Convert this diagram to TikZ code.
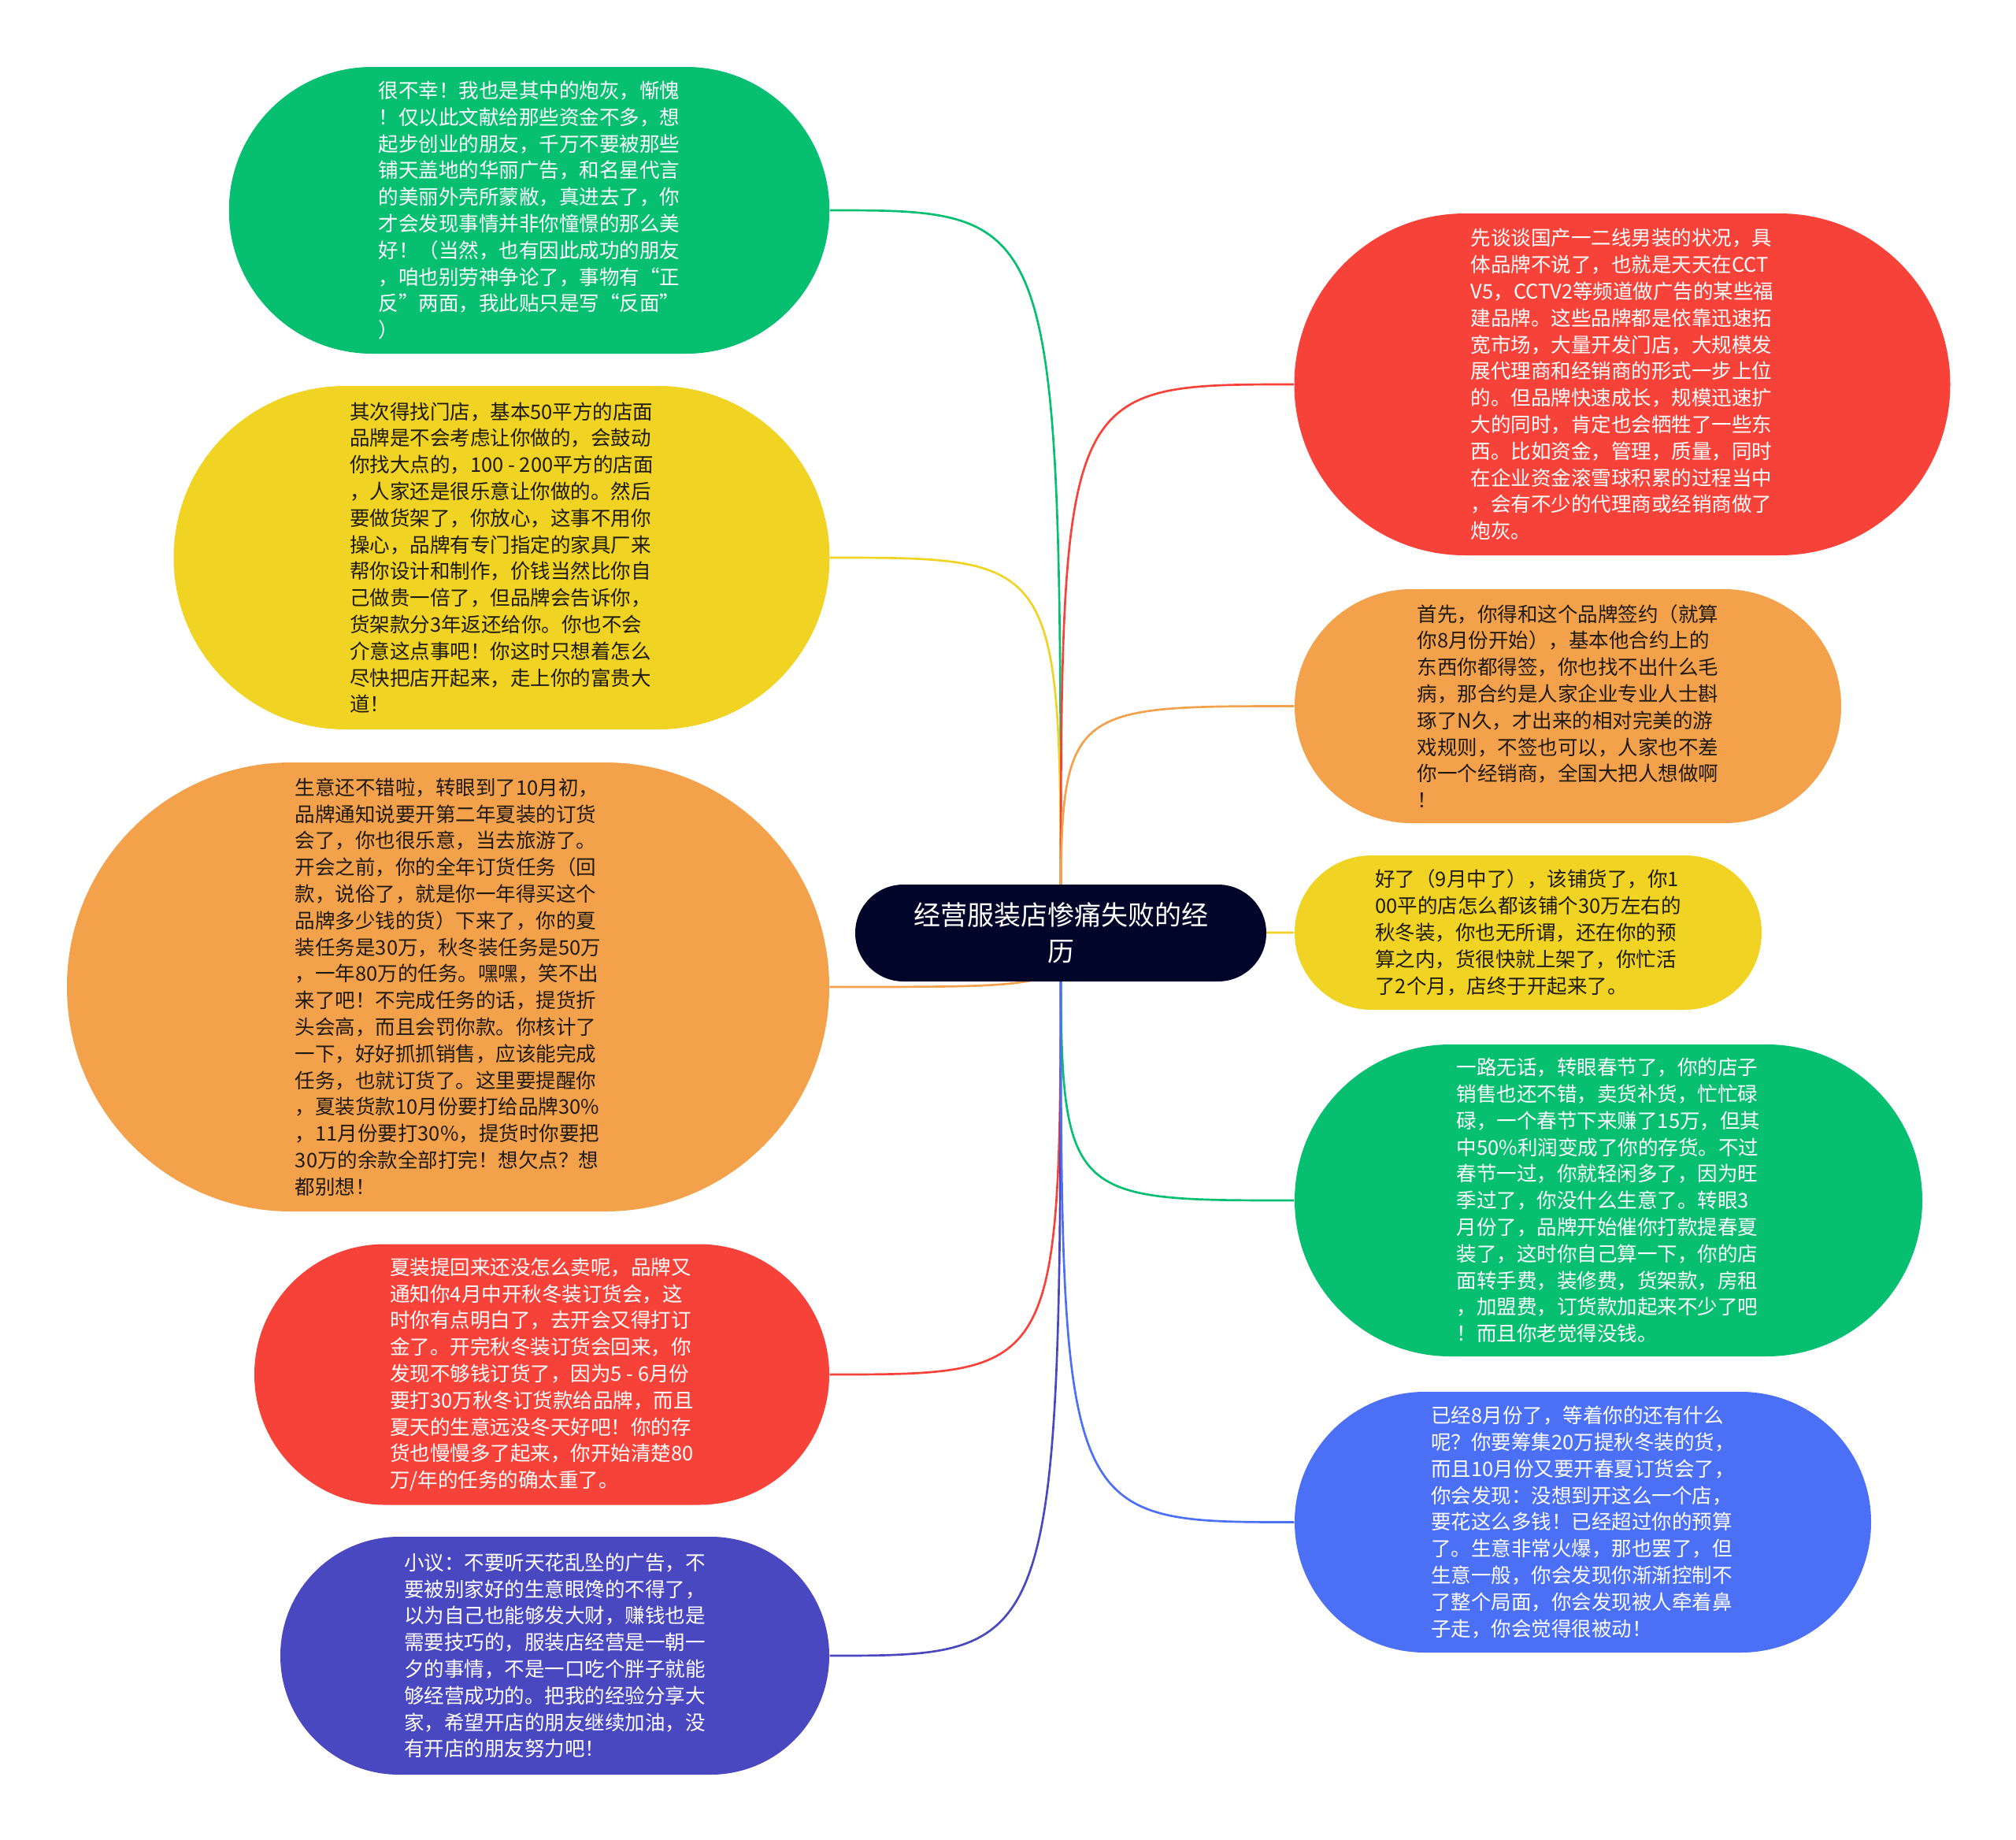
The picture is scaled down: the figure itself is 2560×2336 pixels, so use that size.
\documentclass[tikz,border=0pt]{standalone}
\usepackage{fontspec}
\setmainfont{Noto Sans CJK SC}
\usetikzlibrary{backgrounds}
\definecolor{cgreen}{HTML}{07BF70}
\definecolor{cyellow}{HTML}{F0D323}
\definecolor{corange}{HTML}{F4A14C}
\definecolor{cred}{HTML}{F7423A}
\definecolor{cpurple}{HTML}{4A48C0}
\definecolor{cblue}{HTML}{4B6FF5}
\definecolor{cnavy}{HTML}{02052A}
\definecolor{cdark}{HTML}{1E1A10}
\tikzset{
  bub/.style={rectangle, inner sep=0pt, align=left, font=\fontsize{7.65pt}{10.14pt}\selectfont},
  ctr/.style={rectangle, inner sep=0pt, align=center, fill=cnavy, text=white, font=\fontsize{10.2pt}{13.8pt}\selectfont},
  link/.style={line width=0.8pt}
}
\begin{document}
\begin{tikzpicture}[x=0.3pt, y=-0.3pt]
\useasboundingbox (0,0) rectangle (2560,2336);

% center
\node[ctr, minimum width=156.6pt, minimum height=36.9pt, rounded corners=18.4pt] (c) at (1347,1184.5) {经营服装店惨痛失败的经\\历};

% left side
\node[bub, fill=cgreen, text=white, minimum width=228.75pt, minimum height=109.2pt, rounded corners=54.5pt] (l1) at (672,267) {很不幸！我也是其中的炮灰，惭愧\\！仅以此文献给那些资金不多，想\\起步创业的朋友，千万不要被那些\\铺天盖地的华丽广告，和名星代言\\的美丽外壳所蒙敝，真进去了，你\\才会发现事情并非你憧憬的那么美\\好！（当然，也有因此成功的朋友\\，咱也别劳神争论了，事物有“正\\反”两面，我此贴只是写“反面”\\）};

\node[bub, fill=cyellow, text=cdark, minimum width=249.9pt, minimum height=130.8pt, rounded corners=65.3pt] (l2) at (637,708) {其次得找门店，基本50平方的店面\\品牌是不会考虑让你做的，会鼓动\\你找大点的，100 - 200平方的店面\\，人家还是很乐意让你做的。然后\\要做货架了，你放心，这事不用你\\操心，品牌有专门指定的家具厂来\\帮你设计和制作，价钱当然比你自\\己做贵一倍了，但品牌会告诉你，\\货架款分3年返还给你。你也不会\\介意这点事吧！你这时只想着怎么\\尽快把店开起来，走上你的富贵大\\道！};

\node[bub, fill=corange, text=cdark, minimum width=290.4pt, minimum height=171pt, rounded corners=85.4pt] (l3) at (569,1253) {生意还不错啦，转眼到了10月初，\\品牌通知说要开第二年夏装的订货\\会了，你也很乐意，当去旅游了。\\开会之前，你的全年订货任务（回\\款，说俗了，就是你一年得买这个\\品牌多少钱的货）下来了，你的夏\\装任务是30万，秋冬装任务是50万\\，一年80万的任务。嘿嘿，笑不出\\来了吧！不完成任务的话，提货折\\头会高，而且会罚你款。你核计了\\一下，好好抓抓销售，应该能完成\\任务，也就订货了。这里要提醒你\\，夏装货款10月份要打给品牌30\%\\，11月份要打30\%，提货时你要把\\30万的余款全部打完！想欠点？想\\都别想！};

\node[bub, fill=cred, text=white, minimum width=219pt, minimum height=99.3pt, rounded corners=49.6pt] (l4) at (688,1745) {夏装提回来还没怎么卖呢，品牌又\\通知你4月中开秋冬装订货会，这\\时你有点明白了，去开会又得打订\\金了。开完秋冬装订货会回来，你\\发现不够钱订货了，因为5 - 6月份\\要打30万秋冬订货款给品牌，而且\\夏天的生意远没冬天好吧！你的存\\货也慢慢多了起来，你开始清楚80\\万/年的任务的确太重了。};

\node[bub, fill=cpurple, text=white, minimum width=209.1pt, minimum height=90.6pt, rounded corners=45.2pt] (l5) at (704.5,2102) {小议：不要听天花乱坠的广告，不\\要被别家好的生意眼馋的不得了，\\以为自己也能够发大财，赚钱也是\\需要技巧的，服装店经营是一朝一\\夕的事情，不是一口吃个胖子就能\\够经营成功的。把我的经验分享大\\家，希望开店的朋友继续加油，没\\有开店的朋友努力吧！};

% right side
\node[bub, fill=cred, text=white, minimum width=249.9pt, minimum height=130.2pt, rounded corners=65pt] (r1) at (2060,488) {先谈谈国产一二线男装的状况，具\\体品牌不说了，也就是天天在CCT\\V5，CCTV2等频道做广告的某些福\\建品牌。这些品牌都是依靠迅速拓\\宽市场，大量开发门店，大规模发\\展代理商和经销商的形式一步上位\\的。但品牌快速成长，规模迅速扩\\大的同时，肯定也会牺牲了一些东\\西。比如资金，管理，质量，同时\\在企业资金滚雪球积累的过程当中\\，会有不少的代理商或经销商做了\\炮灰。};

\node[bub, fill=corange, text=cdark, minimum width=208.2pt, minimum height=89.1pt, rounded corners=44.5pt] (r2) at (1991,896.5) {首先，你得和这个品牌签约（就算\\你8月份开始），基本他合约上的\\东西你都得签，你也找不出什么毛\\病，那合约是人家企业专业人士斟\\琢了N久，才出来的相对完美的游\\戏规则，不签也可以，人家也不差\\你一个经销商，全国大把人想做啊\\！};

\node[bub, fill=cyellow, text=cdark, minimum width=177.9pt, minimum height=58.8pt, rounded corners=29.3pt] (r3) at (1940.5,1184) {好了（9月中了），该铺货了，你1\\00平的店怎么都该铺个30万左右的\\秋冬装，你也无所谓，还在你的预\\算之内，货很快就上架了，你忙活\\了2个月，店终于开起来了。};

\node[bub, fill=cgreen, text=white, minimum width=239.1pt, minimum height=118.8pt, rounded corners=59.3pt] (r4) at (2042.5,1524) {一路无话，转眼春节了，你的店子\\销售也还不错，卖货补货，忙忙碌\\碌，一个春节下来赚了15万，但其\\中50\%利润变成了你的存货。不过\\春节一过，你就轻闲多了，因为旺\\季过了，你没什么生意了。转眼3\\月份了，品牌开始催你打款提春夏\\装了，这时你自己算一下，你的店\\面转手费，装修费，货架款，房租\\，加盟费，订货款加起来不少了吧\\！而且你老觉得没钱。};

\node[bub, fill=cblue, text=white, minimum width=219.6pt, minimum height=99.3pt, rounded corners=49.6pt] (r5) at (2010,1932.5) {已经8月份了，等着你的还有什么\\呢？你要筹集20万提秋冬装的货，\\而且10月份又要开春夏订货会了，\\你会发现：没想到开这么一个店，\\要花这么多钱！已经超过你的预算\\了。生意非常火爆，那也罢了，但\\生意一般，你会发现你渐渐控制不\\了整个局面，你会发现被人牵着鼻\\子走，你会觉得很被动！};

\begin{scope}[on background layer]
\fill[white] (0,0) rectangle (2560,2336);
\draw[link, draw=cgreen] (c.center) .. controls (c.center |- l1.east) .. (l1.east);
\draw[link, draw=cyellow] (c.center) .. controls (c.center |- l2.east) .. (l2.east);
\draw[link, draw=corange] (c.center) .. controls (c.center |- l3.east) .. (l3.east);
\draw[link, draw=cred] (c.center) .. controls (c.center |- l4.east) .. (l4.east);
\draw[link, draw=cpurple] (c.center) .. controls (c.center |- l5.east) .. (l5.east);
\draw[link, draw=cred] (c.center) .. controls (c.center |- r1.west) .. (r1.west);
\draw[link, draw=corange] (c.center) .. controls (c.center |- r2.west) .. (r2.west);
\draw[link, draw=cyellow] (c.center) .. controls (c.center |- r3.west) .. (r3.west);
\draw[link, draw=cgreen] (c.center) .. controls (c.center |- r4.west) .. (r4.west);
\draw[link, draw=cblue] (c.center) .. controls (c.center |- r5.west) .. (r5.west);
\end{scope}
\end{tikzpicture}
\end{document}
